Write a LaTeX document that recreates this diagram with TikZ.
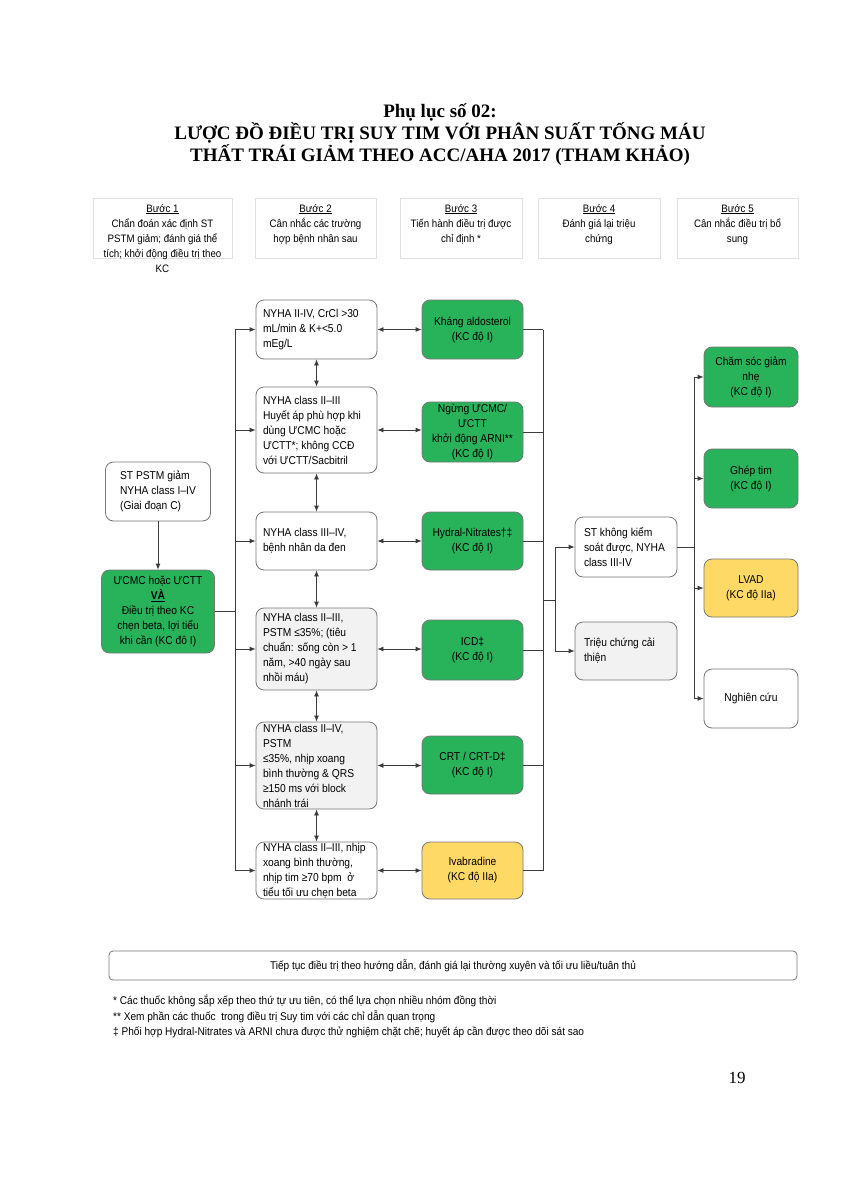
\documentclass[tikz,border=0pt]{standalone}
\usepackage{fontspec}
\setmainfont{Liberation Serif}
\newfontfamily\narrowsans[FakeStretch=0.9]{Liberation Sans}
\newcommand{\boxsize}{\narrowsans\fontsize{11.4}{15}\selectfont}
\newcommand{\stepsize}{\narrowsans\fontsize{10.8}{15}\selectfont}
\newcommand{\notesize}{\narrowsans\fontsize{11.2}{15.5}\selectfont}
\usetikzlibrary{arrows.meta}
\definecolor{kcgreen}{RGB}{40,178,90}
\definecolor{kcyellow}{RGB}{255,217,102}
\definecolor{lightfill}{RGB}{242,242,242}
\definecolor{edgegray}{RGB}{118,118,118}
\definecolor{linegray}{RGB}{60,60,60}
\tikzset{
	rbox/.style={draw=edgegray, line width=0.8pt, rounded corners=8pt, font=\boxsize, inner sep=0pt},
	condbox/.style={rbox, fill=white, text width=107pt, align=flush left, minimum width=121pt},
	greybox/.style={condbox, fill=lightfill},
	kcbox/.style={rbox, fill=kcgreen, align=center, minimum width=101pt},
	kcweak/.style={kcbox, fill=kcyellow},
	stepbox/.style={draw=black!12, line width=0.8pt, minimum height=60pt, inner sep=0pt},
	steptext/.style={font=\stepsize, align=center, inner sep=0pt, anchor=north},
	link/.style={draw=linegray, line width=0.8pt},
	arr/.style={link, -{Latex[length=6pt,width=5pt]}},
	arrs/.style={link, {Latex[length=6pt,width=5pt]}-{Latex[length=6pt,width=5pt]}}
}

\begin{document}
\begin{tikzpicture}[x=1pt, y=-1pt]
	\useasboundingbox (0,0) rectangle (848,1200);
	\node[align=center, font=\bfseries\fontsize{19}{22}\selectfont] (title) at (440,135)
		{Phụ lục số 02:\\LƯỢC ĐỒ ĐIỀU TRỊ SUY TIM VỚI PHÂN SUẤT TỐNG MÁU\\THẤT TRÁI GIẢM THEO ACC/AHA 2017 (THAM KHẢO)};
	% steps
	\node[stepbox, minimum width=139pt] (s1) at (162.5,228) {};
	\node[stepbox, minimum width=121pt] (s2) at (315.5,228) {};
	\node[stepbox, minimum width=122pt] (s3) at (461,228) {};
	\node[stepbox, minimum width=122pt] (s4) at (599,228) {};
	\node[stepbox, minimum width=121pt] (s5) at (737.5,228) {};
	\node[steptext] (t1) at (162.5,204) {\underline{Bước 1}\\Chẩn đoán xác định ST\\PSTM giảm; đánh giá thể\\tích; khởi động điều trị theo\\KC};
	\node[steptext] (t2) at (315.5,204) {\underline{Bước 2}\\Cân nhắc các trường\\hợp bệnh nhân sau};
	\node[steptext] (t3) at (461,204) {\underline{Bước 3}\\Tiến hành điều trị được\\chỉ định *};
	\node[steptext] (t4) at (599,204) {\underline{Bước 4}\\Đánh giá lại triệu\\chứng};
	\node[steptext] (t5) at (737.5,204) {\underline{Bước 5}\\Cân nhắc điều trị bổ\\sung};
	% step 1
	\node[rbox, fill=white, align=left, minimum width=105pt, minimum height=59pt] (l1) at (158,491.5) {ST PSTM giảm\\NYHA class I–IV\\(Giai đoạn C)};
	\node[kcbox, minimum width=113pt, minimum height=83pt] (l2) at (158,611.5) {ƯCMC hoặc ƯCTT\\\textbf{\underline{VÀ}}\\Điều trị theo KC\\chẹn beta, lợi tiểu\\khi cần (KC đô I)};
	% step 2
	\node[condbox, minimum height=59pt] (a1) at (316.5,329.5) {NYHA II-IV, CrCl >30\\mL/min \& K+<5.0\\mEg/L};
	\node[condbox, minimum height=86pt] (a2) at (316.5,430) {NYHA class II–III\\Huyết áp phù hợp khi\\dùng ƯCMC hoặc\\ƯCTT*; không CCĐ\\với ƯCTT/Sacbitril};
	\node[condbox, minimum height=58pt] (a3) at (316.5,541) {NYHA class III–IV,\\bệnh nhân da đen};
	\node[greybox, minimum height=82pt] (a4) at (316.5,649) {NYHA class II–III,\\PSTM ≤35\%; (tiêu\\chuẩn: sống còn > 1\\năm, >40 ngày sau\\nhồi máu)};
	\node[greybox, minimum height=87pt] (a5) at (316.5,765.5) {NYHA class II–IV,\\PSTM\\≤35\%, nhịp xoang\\bình thường \& QRS\\≥150 ms với block\\nhánh trái};
	\node[condbox, minimum height=57pt] (a6) at (316.5,870.5) {NYHA class II–III, nhịp\\xoang bình thường,\\nhịp tim ≥70 bpm\ \ ở\\tiểu tối ưu chẹn beta};
	% step 3
	\node[kcbox, minimum height=59pt] (g1) at (472.5,329.5) {Kháng aldosterol\\(KC độ I)};
	\node[kcbox, minimum height=60pt] (g2) at (472.5,432) {Ngừng ƯCMC/\\ƯCTT\\khởi động ARNI**\\(KC độ I)};
	\node[kcbox, minimum height=58pt] (g3) at (472.5,541) {Hydral-Nitrates†‡\\(KC độ I)};
	\node[kcbox, minimum height=60pt] (g4) at (472.5,650) {ICD‡\\(KC độ I)};
	\node[kcbox, minimum height=58pt] (g5) at (472.5,765) {CRT / CRT-D‡\\(KC độ I)};
	\node[kcweak, minimum height=57pt] (g6) at (472.5,870.5) {Ivabradine\\(KC độ IIa)};
	% step 4
	\node[condbox, text width=84pt, minimum width=102pt, minimum height=60pt] (b1) at (626,547) {ST không kiểm\\soát được, NYHA\\class III-IV};
	\node[greybox, text width=84pt, minimum width=102pt, minimum height=58pt] (b2) at (626,651) {Triệu chứng cải\\thiện};
	% step 5
	\node[kcbox, minimum width=94pt, minimum height=60pt] (c1) at (751,377) {Chăm sóc giảm\\nhẹ\\(KC độ I)};
	\node[kcbox, minimum width=94pt, minimum height=59pt] (c2) at (751,478.5) {Ghép tim\\(KC độ I)};
	\node[kcweak, minimum width=94pt, minimum height=58pt] (c3) at (751,588) {LVAD\\(KC độ IIa)};
	\node[rbox, fill=white, align=center, minimum width=94pt, minimum height=59pt] (c4) at (751,698.5) {Nghiên cứu};
	% connectors
	\coordinate (busL) at (235,0);
	\coordinate (busR) at (543,0);
	\coordinate (fork) at (555,600);
	\coordinate (busC) at (694,0);
	\draw[arr] (l1) -- (l2);
	\draw[link] (l2.east) -- (l2.east -| busL);
	\draw[link] (busL |- a1) -- (busL |- a6);
	\foreach \n in {a1,a2,a3,a4,a5,a6}
		\draw[arr] (busL |- \n) -- (\n.west);
	\draw[arrs] (a1) -- (a2);
	\draw[arrs] (a2) -- (a3);
	\draw[arrs] (a3) -- (a4);
	\draw[arrs] (a4) -- (a5);
	\draw[arrs] (a5) -- (a6);
	\foreach \n/\m in {a1/g1,a2/g2,a3/g3,a4/g4,a5/g5,a6/g6}
		\draw[arrs] (\n.east) -- (\n.east -| \m.west);
	\foreach \m in {g1,g2,g3,g4,g5,g6}
		\draw[link] (\m.east) -- (\m.east -| busR);
	\draw[link] (busR |- g1) -- (busR |- g6);
	\draw[link] (fork -| busR) -- (fork);
	\draw[link] (fork |- b1) -- (fork |- b2);
	\draw[arr] (fork |- b1) -- (b1.west);
	\draw[arr] (fork |- b2) -- (b2.west);
	\draw[link] (b1.east) -- (b1.east -| busC);
	\draw[link] (busC |- c1) -- (busC |- c4);
	\foreach \m in {c1,c2,c3,c4}
		\draw[arr] (busC |- \m) -- (\m.west);
	% bottom
	\node[rbox, rounded corners=4pt, font=\notesize, minimum width=688pt, minimum height=29pt] (cont) at (453,965.5) {Tiếp tục điều trị theo hướng dẫn, đánh giá lại thường xuyên và tối ưu liều/tuân thủ};
	\node[font=\notesize, align=left, anchor=west, inner sep=0pt] (notes) at (113,1016.5) {* Các thuốc không sắp xếp theo thứ tự ưu tiên, có thể lựa chọn nhiều nhóm đồng thời\\** Xem phần các thuốc\ \ trong điều trị Suy tim với các chỉ dẫn quan trọng\\‡ Phối hợp Hydral-Nitrates và ARNI chưa được thử nghiệm chặt chẽ; huyết áp cần được theo dõi sát sao};
	\node[font=\fontsize{17}{20}\selectfont] (page) at (737,1078) {19};
\end{tikzpicture}
\end{document}
